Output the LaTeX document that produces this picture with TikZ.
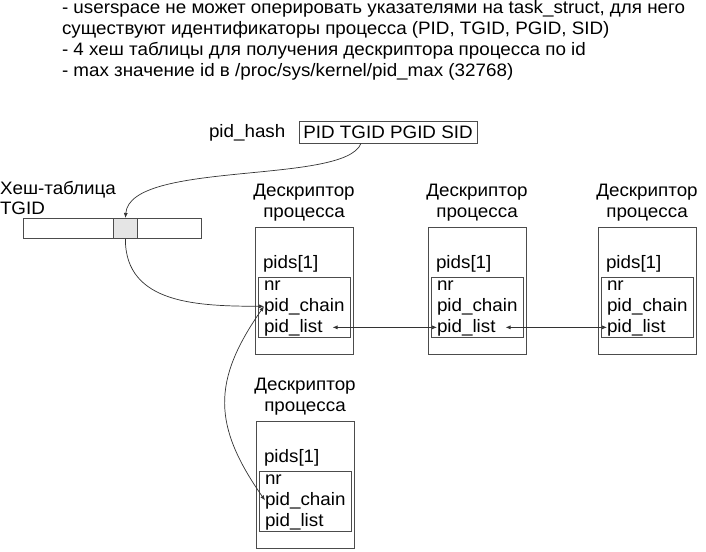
\documentclass[tikz,border=0pt]{standalone}
\usepackage{fontspec}
\setmainfont[FakeStretch=1.045]{Liberation Sans}
\usetikzlibrary{arrows.meta,calc}
\tikzset{
  txt/.style={anchor=base west, inner sep=0pt, outer sep=0pt},
  lbl/.style={anchor=base, inner sep=0pt},
  frame/.style={draw=black!70, line width=0.8pt, inner sep=0pt, anchor=north west},
  arr/.style={draw=black!80, line width=0.7pt, -{Latex[length=5pt,width=4pt]}},
  darr/.style={draw=black!80, line width=0.7pt, {Latex[length=5pt,width=4pt]}-{Latex[length=5pt,width=4pt]}},
}
\newcommand\mydesc[3]{%
  \node[lbl] (#1t1) at ({#2+49},{#3-31}) {Дескриптор};
  \node[lbl] (#1t2) at ({#2+49},{#3-10}) {процесса};
  \node[frame, minimum width=98pt, minimum height=127pt] (#1box) at (#2,#3) {};
  \node[frame, minimum width=92pt, minimum height=60pt] (#1in) at ({#2+3},{#3+50}) {};
  \node[txt] (#1pids) at ({#2+8},{#3+41}) {pids[1]};
  \node[txt] (#1nr) at ({#2+9},{#3+63}) {nr};
  \node[txt] (#1chain) at ({#2+9},{#3+84}) {pid\_chain};
  \node[txt] (#1list) at ({#2+9},{#3+105}) {pid\_list};
}
\begin{document}
\begin{tikzpicture}[x=1pt,y=-1pt,font=\fontsize{18}{21}\selectfont]
\useasboundingbox (0,0) rectangle (706,551);
\node[txt] (l1) at (62,14) {- userspace не может оперировать указателями на task\_struct, для него};
\node[txt] (l2) at (62,35) {существуют идентификаторы процесса (PID, TGID, PGID, SID)};
\node[txt] (l3) at (62,56) {- 4 хеш таблицы для получения дескриптора процесса по id};
\node[txt] (l4) at (62,77) {- max значение id в /proc/sys/kernel/pid\_max (32768)};

\node[txt] (ph) at (209,137) {pid\_hash};
\node[frame, anchor=center, minimum width=178pt, minimum height=22pt] (hb) at (388,132) {PID TGID PGID SID};

\node[txt] (ht1) at (0,194) {Хеш-таблица};
\node[txt] (ht2) at (0,214) {TGID};
\node[frame, minimum width=178pt, minimum height=20pt] (bar) at (23,218) {};
\node[frame, fill=black!10, minimum width=24pt, minimum height=20pt] (cell) at (113,218) {};

\mydesc{a}{255}{227}
\mydesc{b}{428}{227}
\mydesc{c}{598}{227}
\mydesc{d}{256}{421}

\draw[arr] ([xshift=-27pt]hb.south) .. controls (345,185) and (130,160) .. (cell.north);
\draw[arr] (cell.south) .. controls (125,305) and (200,306) .. (achain.west);
\draw[darr] (achain.west) to[out=235,in=125,looseness=1.2] (dchain.west);
\draw[darr] ([xshift=10pt]alist.east) -- (blist.west);
\draw[darr] ([xshift=10pt]blist.east) -- (clist.west);
\end{tikzpicture}
\end{document}
